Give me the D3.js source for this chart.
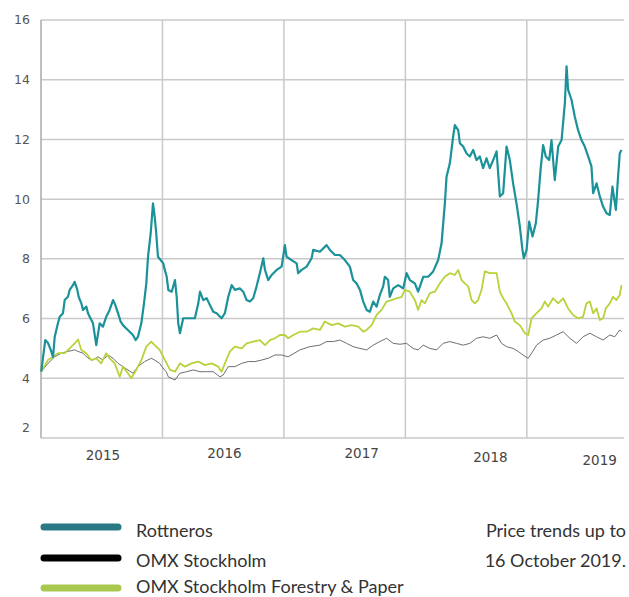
<!DOCTYPE html>
<html>
<head>
<meta charset="utf-8">
<script src="https://cdn.jsdelivr.net/npm/d3@7"></script>
<style>
  body { margin: 0; background: #fff; }
  svg { display: block; }
</style>
</head>
<body>
<div id="chart"></div>
<script>
// Decimal year / value pairs
var rottnerosYear = [2015.002, 2015.035, 2015.058, 2015.080, 2015.099, 2015.113, 2015.140, 2015.154, 2015.181, 2015.195,
  2015.222, 2015.236, 2015.263, 2015.277, 2015.299, 2015.310, 2015.332, 2015.346, 2015.373, 2015.387,
  2015.401, 2015.428, 2015.455, 2015.483, 2015.510, 2015.537, 2015.565, 2015.593, 2015.612, 2015.634,
  2015.656, 2015.675, 2015.702, 2015.730, 2015.757, 2015.779, 2015.798, 2015.826, 2015.848, 2015.867,
  2015.881, 2015.903, 2015.922, 2015.936, 2015.949, 2015.963, 2015.985, 2016.007, 2016.012, 2016.035,
  2016.048, 2016.076, 2016.103, 2016.117, 2016.130, 2016.144, 2016.171, 2016.212, 2016.267, 2016.295,
  2016.309, 2016.336, 2016.364, 2016.391, 2016.418, 2016.446, 2016.487, 2016.514, 2016.542, 2016.570,
  2016.597, 2016.638, 2016.665, 2016.693, 2016.720, 2016.747, 2016.775, 2016.802, 2016.830, 2016.844,
  2016.871, 2016.899, 2016.940, 2016.981, 2017.008, 2017.022, 2017.063, 2017.105, 2017.117, 2017.146,
  2017.187, 2017.228, 2017.241, 2017.296, 2017.351, 2017.379, 2017.420, 2017.461, 2017.502, 2017.543,
  2017.570, 2017.598, 2017.626, 2017.653, 2017.681, 2017.708, 2017.735, 2017.763, 2017.790, 2017.817,
  2017.831, 2017.858, 2017.872, 2017.900, 2017.941, 2017.982, 2018.010, 2018.037, 2018.078, 2018.105,
  2018.147, 2018.188, 2018.229, 2018.270, 2018.298, 2018.325, 2018.339, 2018.366, 2018.393, 2018.407,
  2018.435, 2018.449, 2018.476, 2018.504, 2018.531, 2018.558, 2018.586, 2018.613, 2018.640, 2018.668,
  2018.695, 2018.723, 2018.751, 2018.778, 2018.805, 2018.833, 2018.860, 2018.887, 2018.915, 2018.942,
  2018.964, 2018.975, 2018.998, 2019.019, 2019.047, 2019.074, 2019.093, 2019.113, 2019.134, 2019.156,
  2019.184, 2019.203, 2019.230, 2019.258, 2019.286, 2019.313, 2019.327, 2019.340, 2019.368, 2019.395,
  2019.422, 2019.450, 2019.477, 2019.505, 2019.532, 2019.546, 2019.574, 2019.601, 2019.628, 2019.656,
  2019.683, 2019.705, 2019.733, 2019.751, 2019.765, 2019.779]
var rottnerosValue = [4.22, 5.28, 5.18, 4.95, 4.72, 5.39, 5.85, 6.06, 6.18, 6.62,
  6.73, 6.96, 7.12, 7.23, 6.96, 6.73, 6.51, 6.29, 6.40, 6.18,
  6.06, 5.84, 5.11, 5.84, 5.73, 6.06, 6.29, 6.62, 6.45, 6.18,
  5.90, 5.78, 5.67, 5.56, 5.45, 5.28, 5.39, 5.84, 6.51, 7.18,
  8.07, 8.85, 9.86, 9.41, 8.85, 8.07, 7.96, 7.85, 7.74, 7.40,
  6.96, 6.90, 7.29, 6.73, 5.84, 5.51, 6.01, 6.01, 6.01, 6.51,
  6.90, 6.62, 6.68, 6.45, 6.23, 6.18, 6.01, 6.18, 6.73, 7.12,
  6.96, 7.01, 6.90, 6.62, 6.57, 6.68, 7.08, 7.52, 8.02, 7.63,
  7.29, 7.46, 7.63, 7.74, 8.46, 8.07, 7.96, 7.85, 7.52, 7.63,
  7.74, 8.02, 8.30, 8.24, 8.46, 8.30, 8.13, 8.13, 7.96, 7.74,
  7.29, 7.18, 6.96, 6.57, 6.29, 6.23, 6.57, 6.40, 6.79, 7.08,
  7.40, 7.29, 6.73, 7.01, 7.12, 7.01, 7.52, 7.29, 7.18, 6.90,
  7.40, 7.40, 7.58, 7.96, 8.52, 9.86, 10.75, 11.20, 12.09, 12.48,
  12.31, 11.87, 11.76, 11.53, 11.43, 11.65, 11.31, 11.43, 11.04, 11.37,
  11.04, 11.31, 11.60, 10.09, 10.20, 11.76, 11.31, 10.53, 9.86, 9.10,
  8.30, 8.02, 8.30, 9.25, 8.75, 9.19, 9.97, 10.98, 11.81, 11.43,
  11.31, 11.98, 10.64, 11.76, 11.98, 13.21, 14.45, 13.66, 13.32, 12.76,
  12.31, 11.98, 11.76, 11.43, 11.10, 10.20, 10.53, 10.09, 9.75, 9.53,
  9.47, 10.42, 9.64, 10.75, 11.53, 11.65]

var omxYear = [2015.002, 2015.058, 2015.113, 2015.167, 2015.222, 2015.277, 2015.305, 2015.346, 2015.387, 2015.428,
  2015.469, 2015.510, 2015.551, 2015.593, 2015.634, 2015.675, 2015.716, 2015.757, 2015.798, 2015.853,
  2015.908, 2015.936, 2015.977, 2015.993, 2016.031, 2016.048, 2016.103, 2016.144, 2016.199, 2016.253,
  2016.309, 2016.364, 2016.418, 2016.473, 2016.500, 2016.542, 2016.597, 2016.652, 2016.706, 2016.761,
  2016.816, 2016.871, 2016.926, 2016.981, 2017.035, 2017.132, 2017.214, 2017.296, 2017.351, 2017.406,
  2017.461, 2017.516, 2017.570, 2017.626, 2017.681, 2017.735, 2017.790, 2017.845, 2017.900, 2017.955,
  2018.010, 2018.064, 2018.105, 2018.147, 2018.202, 2018.257, 2018.311, 2018.366, 2018.421, 2018.476,
  2018.531, 2018.586, 2018.640, 2018.695, 2018.751, 2018.792, 2018.833, 2018.887, 2018.928, 2018.969,
  2019.011, 2019.041, 2019.080, 2019.134, 2019.189, 2019.244, 2019.299, 2019.354, 2019.409, 2019.463,
  2019.519, 2019.574, 2019.628, 2019.683, 2019.724, 2019.765, 2019.779]
var omxValue = [4.22, 4.50, 4.72, 4.84, 4.90, 4.95, 4.90, 4.84, 4.67, 4.61,
  4.72, 4.61, 4.78, 4.67, 4.50, 4.39, 4.28, 4.17, 4.39, 4.56,
  4.67, 4.61, 4.50, 4.40, 4.22, 4.05, 3.94, 4.17, 4.22, 4.28,
  4.22, 4.22, 4.22, 4.05, 4.11, 4.39, 4.39, 4.50, 4.56, 4.56,
  4.61, 4.67, 4.78, 4.78, 4.72, 4.95, 5.06, 5.11, 5.23, 5.23,
  5.28, 5.17, 5.06, 5.00, 4.95, 5.11, 5.23, 5.34, 5.17, 5.14,
  5.17, 5.00, 4.95, 5.11, 5.00, 4.95, 5.17, 5.23, 5.17, 5.11,
  5.17, 5.34, 5.39, 5.34, 5.45, 5.17, 5.06, 5.00, 4.90, 4.78,
  4.67, 4.85, 5.11, 5.28, 5.34, 5.45, 5.56, 5.34, 5.17, 5.39,
  5.51, 5.39, 5.28, 5.45, 5.39, 5.62, 5.56]

var forestryYear = [2015.002, 2015.058, 2015.099, 2015.140, 2015.195, 2015.236, 2015.277, 2015.305, 2015.332, 2015.373,
  2015.414, 2015.455, 2015.496, 2015.537, 2015.565, 2015.607, 2015.648, 2015.675, 2015.716, 2015.743,
  2015.784, 2015.826, 2015.867, 2015.908, 2015.936, 2015.977, 2016.021, 2016.062, 2016.103, 2016.144,
  2016.185, 2016.240, 2016.295, 2016.350, 2016.405, 2016.459, 2016.487, 2016.514, 2016.556, 2016.597,
  2016.652, 2016.693, 2016.747, 2016.802, 2016.844, 2016.885, 2016.926, 2016.967, 2017.008, 2017.035,
  2017.077, 2017.132, 2017.187, 2017.241, 2017.296, 2017.337, 2017.393, 2017.447, 2017.502, 2017.557,
  2017.612, 2017.653, 2017.681, 2017.722, 2017.763, 2017.804, 2017.845, 2017.886, 2017.928, 2017.969,
  2017.996, 2018.037, 2018.078, 2018.105, 2018.133, 2018.160, 2018.202, 2018.243, 2018.284, 2018.325,
  2018.366, 2018.407, 2018.435, 2018.463, 2018.490, 2018.517, 2018.545, 2018.572, 2018.599, 2018.627,
  2018.654, 2018.695, 2018.751, 2018.778, 2018.805, 2018.833, 2018.874, 2018.901, 2018.942, 2018.984,
  2019.011, 2019.039, 2019.080, 2019.121, 2019.148, 2019.175, 2019.216, 2019.258, 2019.299, 2019.340,
  2019.381, 2019.422, 2019.463, 2019.491, 2019.519, 2019.546, 2019.574, 2019.601, 2019.628, 2019.650,
  2019.683, 2019.710, 2019.738, 2019.765, 2019.779]
var forestryValue = [4.22, 4.61, 4.72, 4.84, 4.84, 5.00, 5.17, 5.30, 4.95, 4.84,
  4.61, 4.67, 4.50, 4.84, 4.67, 4.50, 4.05, 4.39, 4.17, 4.00,
  4.28, 4.61, 5.06, 5.23, 5.11, 4.95, 4.61, 4.28, 4.22, 4.50,
  4.39, 4.50, 4.56, 4.44, 4.50, 4.39, 4.22, 4.50, 4.90, 5.06,
  5.00, 5.17, 5.23, 5.28, 5.11, 5.28, 5.34, 5.45, 5.45, 5.34,
  5.45, 5.56, 5.56, 5.67, 5.62, 5.90, 5.78, 5.84, 5.73, 5.78,
  5.73, 5.56, 5.62, 5.78, 6.12, 6.29, 6.57, 6.62, 6.68, 6.73,
  6.96, 6.90, 6.62, 6.29, 6.62, 6.51, 6.85, 6.90, 7.18, 7.40,
  7.52, 7.46, 7.63, 7.29, 7.18, 7.08, 6.62, 6.51, 6.62, 6.96,
  7.58, 7.52, 7.52, 6.90, 6.68, 6.51, 6.18, 5.90, 5.78, 5.51,
  5.45, 6.01, 6.18, 6.34, 6.57, 6.40, 6.68, 6.51, 6.68, 6.34,
  6.12, 6.01, 6.06, 6.51, 6.57, 6.18, 6.34, 5.95, 6.01, 6.34,
  6.51, 6.73, 6.62, 6.79, 7.12]

var yTicks = [2, 4, 6, 8, 10, 12, 14, 16]
var yearGrid = [2016, 2017, 2018, 2019]
var yearLabels = ['2015', '2016', '2017', '2018', '2019']
var yearLabelAt = [2015.51, 2016.51, 2017.64, 2018.70, 2019.60]

var legendNames = ['Rottneros', 'OMX Stockholm', 'OMX Stockholm Forestry & Paper']
var noteLines = ['Price trends up to', '16 October 2019.']

// Sizes
const width = 629
const height = 597

var svg = d3
  .select('#chart')
  .append('svg')
  .attr('width', width)
  .attr('height', height)

var x = d3.scaleLinear().domain([2015, 2019.8]).range([41, 624])
var y = d3.scaleLinear().domain([2, 16]).range([438, 20])

var gridColor = '#c9c9c9'

// Horizontal grid lines (the one at 2 is the bottom axis)
svg.append('g')
  .selectAll('line')
  .data(yTicks)
  .enter().append('line')
  .attr('x1', x(2015))
  .attr('x2', x(2019.8))
  .attr('y1', d => y(d))
  .attr('y2', d => y(d))
  .attr('stroke', gridColor)
  .attr('stroke-width', 1.5)

// Vertical year lines + left axis
svg.append('g')
  .selectAll('line')
  .data([2015].concat(yearGrid))
  .enter().append('line')
  .attr('x1', d => x(d))
  .attr('x2', d => x(d))
  .attr('y1', y(16))
  .attr('y2', y(2))
  .attr('stroke', d => d === 2015 ? '#aaa' : gridColor)
  .attr('stroke-width', 1.5)

// Y labels
svg.append('g')
  .selectAll('text')
  .data(yTicks)
  .enter().append('text')
  .attr('x', 30)
  .attr('y', d => y(d) + (d === 2 ? -10 : 0))
  .attr('dy', '0.35em')
  .attr('text-anchor', 'end')
  .attr('font-family', 'DejaVu Sans, Verdana, sans-serif')
  .attr('font-size', 12.5)
  .attr('fill', '#555')
  .text(d => d)

// Year labels
var yearLabelDy = [0, -2, -2, 2, 5]
svg.append('g')
  .selectAll('text')
  .data(yearLabels)
  .enter().append('text')
  .attr('x', (d, i) => x(yearLabelAt[i]))
  .attr('y', (d, i) => 460 + yearLabelDy[i])
  .attr('text-anchor', 'middle')
  .attr('font-family', 'DejaVu Sans, Verdana, sans-serif')
  .attr('font-size', 13.5)
  .attr('fill', '#444')
  .text(d => d)

// Lines
var line = d3.line()
  .x(d => x(d[0]))
  .y(d => y(d[1]))

var series = [
  { year: omxYear, value: omxValue, color: '#6e6e6e', w: 1 },
  { year: forestryYear, value: forestryValue, color: '#b7d33c', w: 1.8 },
  { year: rottnerosYear, value: rottnerosValue, color: '#1b9199', w: 2.2 }
]

svg.append('g')
  .selectAll('path')
  .data(series)
  .enter().append('path')
  .attr('fill', 'none')
  .attr('stroke', d => d.color)
  .attr('stroke-width', d => d.w)
  .attr('stroke-linejoin', 'round')
  .attr('d', d => line(d.year.map((yr, i) => [yr, d.value[i]])))

// Legend
var legendColors = ['#2a7884', '#000000', '#a9c94e']
var legendY = [527, 558, 588]
var legendBase = [537, 567, 593]
var legend = svg.append('g')
  .selectAll('g')
  .data(legendNames)
  .enter().append('g')

legend.append('line')
  .attr('x1', 44)
  .attr('x2', 118)
  .attr('y1', (d, i) => legendY[i])
  .attr('y2', (d, i) => legendY[i])
  .attr('stroke', (d, i) => legendColors[i])
  .attr('stroke-width', 7)
  .attr('stroke-linecap', 'round')

legend.append('text')
  .attr('x', 136)
  .attr('y', (d, i) => legendBase[i])
  .attr('font-family', 'Lato, sans-serif')
  .attr('font-size', 18)
  .attr('fill', '#333')
  .text(d => d)

// Note on the right
svg.append('g')
  .selectAll('text')
  .data(noteLines)
  .enter().append('text')
  .attr('x', 626)
  .attr('y', (d, i) => legendBase[i])
  .attr('text-anchor', 'end')
  .attr('font-family', 'Lato, sans-serif')
  .attr('font-size', 18)
  .attr('fill', '#333')
  .text(d => d)
</script>
</body>
</html>
